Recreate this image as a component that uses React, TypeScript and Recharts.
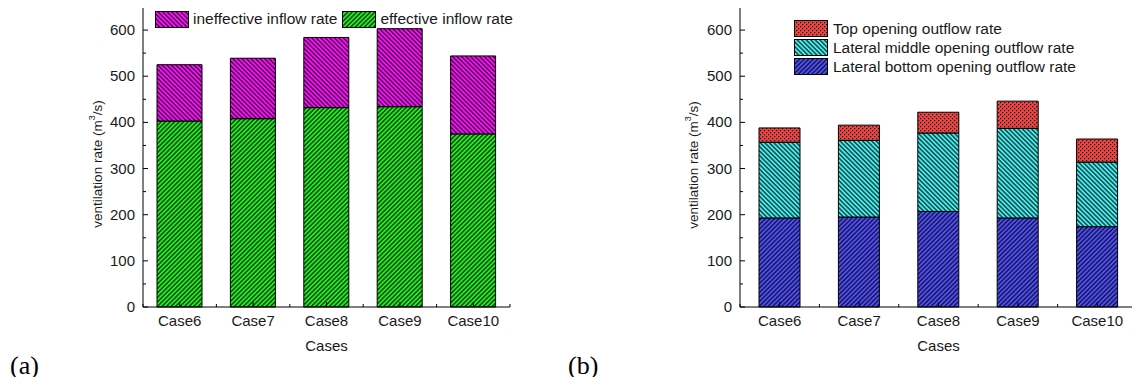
import React from "react";
import { BarChart, Bar, XAxis, YAxis, Legend } from "recharts";

const cases = ["Case6", "Case7", "Case8", "Case9", "Case10"];

// (a) inflow
const effectiveInflow = [403, 408, 432, 434, 375];
const ineffectiveInflow = [122, 131, 152, 169, 169];

// (b) outflow
const bottomOutflow = [193, 195, 207, 193, 174];
const middleOutflow = [164, 166, 170, 194, 140];
const topOutflow = [31, 33, 45, 59, 50];

const yTicks = [0, 50, 100, 150, 200, 250, 300, 350, 400, 450, 500, 550, 600];

const dataA = cases.map((name, i) => ({
  name,
  effective: effectiveInflow[i],
  ineffective: ineffectiveInflow[i],
}));

const dataB = cases.map((name, i) => ({
  name,
  bottom: bottomOutflow[i],
  middle: middleOutflow[i],
  top: topOutflow[i],
}));

const FONT = "'Liberation Sans', Arial, sans-serif";
const TXT = "#1a1a1a";

function Hatch({ id, color, angle }: { id: string; color: string; angle: number }) {
  return (
    <pattern id={id} width={3.2} height={3.2} patternUnits="userSpaceOnUse" patternTransform={`rotate(${angle})`}>
      <rect width={3.2} height={3.2} fill={color} />
      <line x1={1.6} y1={0} x2={1.6} y2={3.2} stroke="#000" strokeWidth={1.05} />
    </pattern>
  );
}

const patterns = (
  <defs>
    <Hatch id="patGreen" color="#22f022" angle={45} />
    <Hatch id="patMagenta" color="#ff10ff" angle={-45} />
    <Hatch id="patBlue" color="#5050ff" angle={45} />
    <Hatch id="patCyan" color="#48f0f0" angle={-45} />
    <pattern id="patRed" width={4} height={4} patternUnits="userSpaceOnUse">
      <rect width={4} height={4} fill="#f84040" />
      <rect x={0} y={0} width={1.2} height={1.2} fill="#000" />
      <rect x={2} y={2} width={1.2} height={1.2} fill="#000" />
    </pattern>
  </defs>
);

const YTickLeft = (props: any) => {
  const { x, y, payload } = props;
  const major = payload.value % 100 === 0;
  return (
    <g>
      <line x1={x} x2={x + (major ? 5 : 3)} y1={y} y2={y} stroke="#000" />
      {major && (
        <text x={x - 8} y={y} dy={5} textAnchor="end" fontSize={15} fontFamily={FONT} fill={TXT}>
          {payload.value}
        </text>
      )}
    </g>
  );
};

const YTickRight = (props: any) => {
  const { x, y, payload } = props;
  const major = payload.value % 100 === 0;
  return <line x1={x} x2={x - (major ? 5 : 3)} y1={y} y2={y} stroke="#000" />;
};

const makeXTick = (band: number, dir: number, withText: boolean) => (props: any) => {
  const { x, y, payload, index } = props;
  const half = band / 2;
  return (
    <g>
      <line x1={x} x2={x} y1={y} y2={y + dir * 5} stroke="#000" />
      <line x1={x - half} x2={x - half} y1={y} y2={y + dir * 3} stroke="#000" />
      {index === cases.length - 1 && (
        <line x1={x + half} x2={x + half} y1={y} y2={y + dir * 3} stroke="#000" />
      )}
      {withText && (
        <text x={x} y={y + 19} textAnchor="middle" fontSize={15} fontFamily={FONT} fill={TXT}>
          {payload.value}
        </text>
      )}
    </g>
  );
};

const yLabel = (cx: number, cy: number) => () => (
  <text
    x={cx}
    y={cy}
    transform={`rotate(-90, ${cx}, ${cy})`}
    textAnchor="middle"
    dominantBaseline="central"
    fontSize={13.5}
    fontFamily={FONT}
    fill={TXT}
  >
    ventilation rate (m
    <tspan dy={-5} fontSize={9}>3</tspan>
    <tspan dy={5}>/s)</tspan>
  </text>
);

const xLabel = (cx: number) => () => (
  <text x={cx} y={351} textAnchor="middle" fontSize={15} fontFamily={FONT} fill={TXT}>
    Cases
  </text>
);

const Swatch = ({ fill }: { fill: string }) => (
  <svg width={34} height={17} style={{ display: "block", flex: "none" }}>
    <rect x={0.5} y={0.5} width={33} height={16} fill={fill} stroke="#000" />
  </svg>
);

const legendA = () => (
  <div style={{ display: "flex", alignItems: "center", fontFamily: FONT, fontSize: 15.5, color: TXT, whiteSpace: "nowrap" }}>
    <Swatch fill="url(#patMagenta)" />
    <span style={{ marginLeft: 4, marginRight: 5 }}>ineffective inflow rate</span>
    <Swatch fill="url(#patGreen)" />
    <span style={{ marginLeft: 4 }}>effective inflow rate</span>
  </div>
);

const legendItemsB = [
  { label: "Top opening outflow rate", fill: "url(#patRed)" },
  { label: "Lateral middle opening outflow rate", fill: "url(#patCyan)" },
  { label: "Lateral bottom opening outflow rate", fill: "url(#patBlue)" },
];

const legendB = () => (
  <div style={{ fontFamily: FONT, fontSize: 15.5, color: TXT, whiteSpace: "nowrap" }}>
    {legendItemsB.map((it) => (
      <div key={it.label} style={{ display: "flex", alignItems: "center", height: 19 }}>
        <Swatch fill={it.fill} />
        <span style={{ marginLeft: 5 }}>{it.label}</span>
      </div>
    ))}
  </div>
);

const panelLabel: React.CSSProperties = {
  position: "absolute",
  top: 351,
  fontFamily: "'Liberation Serif', 'Times New Roman', serif",
  fontSize: 26,
  color: "#000",
};

export default function App() {
  const bandA = 367 / cases.length;
  const bandB = 397 / cases.length;
  return (
    <div style={{ position: "relative", width: 1140, height: 385, margin: -8, background: "#fff", overflow: "hidden" }}>
      <div style={{ position: "absolute", left: 0, top: 0 }}>
        <BarChart width={530} height={385} data={dataA} margin={{ top: 7, right: 20, bottom: 28, left: 93 }}>
          {patterns}
          <XAxis dataKey="name" height={50} interval={0} tickSize={0} tickMargin={0} tickLine={false}
            axisLine={{ stroke: "#000" }} tick={makeXTick(bandA, -1, true)} label={xLabel(326.5)} />
          <XAxis xAxisId="t" dataKey="name" orientation="top" height={0} interval={0} tickSize={0} tickMargin={0}
            tickLine={false} axisLine={{ stroke: "#000" }} tick={makeXTick(bandA, 1, false)} />
          <YAxis width={50} domain={[0, 650]} ticks={yTicks} interval={0} tickSize={0} tickMargin={0} tickLine={false}
            axisLine={{ stroke: "#000" }} tick={YTickLeft} label={yLabel(97, 164)} />
          <YAxis yAxisId="r" orientation="right" width={0} domain={[0, 650]} ticks={yTicks} interval={0} tickSize={0}
            tickMargin={0} tickLine={false} axisLine={{ stroke: "#000" }} tick={YTickRight} />
          <Legend layout="vertical" align="center" verticalAlign="middle" content={legendA}
            wrapperStyle={{ left: 155, top: 10, width: "auto" }} />
          <Bar dataKey="effective" stackId="a" barSize={45} fill="url(#patGreen)" stroke="#000" strokeWidth={1} isAnimationActive={false} />
          <Bar dataKey="ineffective" stackId="a" barSize={45} fill="url(#patMagenta)" stroke="#000" strokeWidth={1} isAnimationActive={false} />
        </BarChart>
      </div>
      <div style={{ position: "absolute", left: 570, top: 0 }}>
        <BarChart width={570} height={385} data={dataB} margin={{ top: 7, right: 3, bottom: 28, left: 120 }}>
          <XAxis dataKey="name" height={50} interval={0} tickSize={0} tickMargin={0} tickLine={false}
            axisLine={{ stroke: "#000" }} tick={makeXTick(bandB, -1, true)} label={xLabel(368.5)} />
          <XAxis xAxisId="t" dataKey="name" orientation="top" height={0} interval={0} tickSize={0} tickMargin={0}
            tickLine={false} axisLine={{ stroke: "#000" }} tick={makeXTick(bandB, 1, false)} />
          <YAxis width={50} domain={[0, 650]} ticks={yTicks} interval={0} tickSize={0} tickMargin={0} tickLine={false}
            axisLine={{ stroke: "#000" }} tick={YTickLeft} label={yLabel(123, 165)} />
          <YAxis yAxisId="r" orientation="right" width={0} domain={[0, 650]} ticks={yTicks} interval={0} tickSize={0}
            tickMargin={0} tickLine={false} axisLine={{ stroke: "#000" }} tick={YTickRight} />
          <Legend layout="vertical" align="center" verticalAlign="middle" content={legendB}
            wrapperStyle={{ left: 224, top: 19, width: "auto" }} />
          <Bar dataKey="bottom" stackId="b" barSize={41} fill="url(#patBlue)" stroke="#000" strokeWidth={1} isAnimationActive={false} />
          <Bar dataKey="middle" stackId="b" barSize={41} fill="url(#patCyan)" stroke="#000" strokeWidth={1} isAnimationActive={false} />
          <Bar dataKey="top" stackId="b" barSize={41} fill="url(#patRed)" stroke="#000" strokeWidth={1} isAnimationActive={false} />
        </BarChart>
      </div>
      <div style={{ ...panelLabel, left: 10 }}>(a)</div>
      <div style={{ ...panelLabel, left: 568 }}>(b)</div>
    </div>
  );
}
